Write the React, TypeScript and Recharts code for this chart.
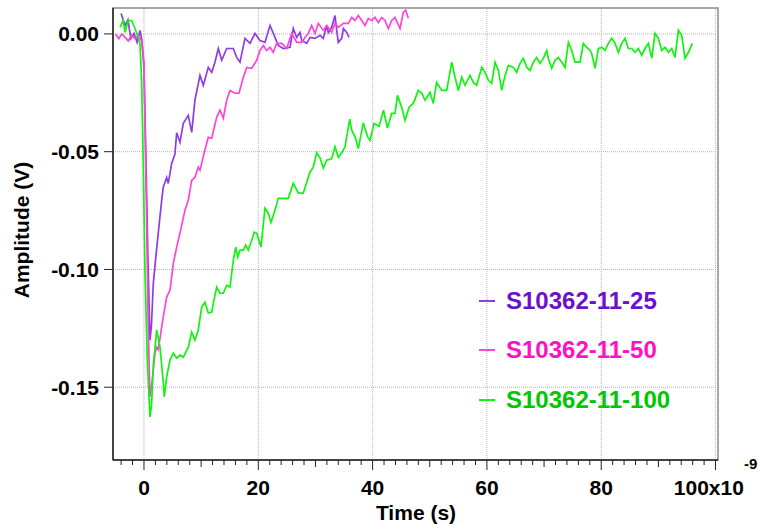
import React from "react"
import { LineChart, Line, XAxis, YAxis, ReferenceLine, ReferenceArea, Legend } from "recharts"

// time in ns, amplitude in V
const purpleT = [
  -4.0, -3.3, -2.8, -2.3, -1.75, -1.2, -0.7, -0.35, 0, 0.35, 0.7, 1.05, 1.3, 1.63, 2.1, 2.5,
  3.1, 3.38, 3.97, 4.25, 4.85, 5.42, 5.72, 6.3, 6.88, 7.75, 8.35, 8.92, 9.8, 10.38, 11.25, 11.85,
  12.42, 13.0, 13.6, 14.47, 15.63, 16.22, 16.8, 17.67, 18.55, 19.42, 20.3, 21.17, 22.05, 22.92, 23.5, 24.37,
  25.55, 26.12, 26.72, 27.3, 27.6, 28.47, 29.05, 29.92, 30.8, 31.37, 31.97, 32.25, 32.84, 33.42, 33.72, 34.0,
  34.6, 34.88, 35.47, 35.87,
]
const purpleV = [
  0.0087, 0.0036, 0.006, -0.002, 0.0002, -0.0036, 0.0015, -0.0028, -0.015, -0.054, -0.096, -0.13, -0.124, -0.106, -0.094, -0.0846,
  -0.0706, -0.065, -0.061, -0.0635, -0.055, -0.051, -0.042, -0.046, -0.038, -0.0346, -0.0418, -0.028, -0.0176, -0.0218, -0.0142, -0.0163,
  -0.012, -0.0062, -0.0112, -0.0062, -0.0062, -0.01, -0.012, -0.0019, -0.004, 0.0002, -0.0028, -0.0036, 0.0036, -0.0015, -0.0049, -0.0062,
  -0.0057, 0.0023, -0.0015, 0.0006, -0.0028, -0.004, -0.0015, -0.0019, -0.0006, -0.0019, 0.0036, 0.0006, 0.0028, 0.0078, 0.0015, -0.0036,
  -0.0019, 0.0023, 0.0006, -0.0015,
]

const pinkT = [
  -5.0, -4.4, -3.9, -3.3, -2.75, -2.15, -1.57, -1.0, -0.4, 0, 0.4, 0.75, 1.05, 1.4, 1.92, 2.22,
  2.5, 3.38, 3.97, 4.55, 5.13, 5.72, 6.3, 7.17, 7.75, 8.35, 8.92, 9.5, 9.8, 10.38, 11.25, 11.85,
  12.72, 13.3, 13.88, 14.47, 15.05, 15.92, 16.62, 17.38, 17.97, 18.85, 19.72, 20.3, 20.87, 21.47, 22.05, 22.62,
  23.22, 24.1, 24.97, 25.84, 26.72, 27.6, 28.17, 28.75, 29.34, 29.92, 30.5, 31.37, 31.97, 32.84, 33.42, 34.0,
  34.88, 35.75, 36.34, 36.92, 37.5, 38.1, 38.67, 39.25, 39.84, 40.42, 41.0, 41.6, 42.17, 42.75, 43.34, 43.92,
  44.8, 45.37, 45.8, 46.25,
]
const pinkV = [
  0, -0.002, 0, -0.0015, -0.003, -0.0006, -0.002, -0.0006, -0.003, -0.012, -0.07, -0.125, -0.154, -0.148, -0.1356, -0.133,
  -0.134, -0.12, -0.1117, -0.1088, -0.0975, -0.0905, -0.0846, -0.0749, -0.0706, -0.0622, -0.0609, -0.0566, -0.0579, -0.052, -0.0439, -0.0443,
  -0.0354, -0.0324, -0.0358, -0.0282, -0.024, -0.0252, -0.0252, -0.0184, -0.0142, -0.0146, -0.0112, -0.007, -0.0049, -0.007, -0.0057, -0.0078,
  -0.004, -0.004, -0.0062, 0.0002, -0.0036, -0.0036, -0.0015, 0.0002, 0.0036, 0.0002, 0.0045, 0.0015, 0.0036, 0.0006, 0.0045, 0.0028,
  0.0045, 0.0045, 0.007, 0.0057, 0.0078, 0.0057, 0.0036, 0.0066, 0.0057, 0.007, 0.0049, 0.007, 0.0057, 0.0023, 0.0057, 0.007,
  0.0023, 0.0091, 0.01, 0.0066,
]

const greenT = [
  -4.2, -3.62, -3.32, -2.75, -2.15, -1.57, -1.0, -0.7, -0.4, -0.17,
  0.17, 0.6, 1.05, 1.31, 1.66, 2.22, 2.8, 3.38, 3.55, 3.97,
  4.55, 5.13, 5.72, 6.3, 6.88, 7.75, 8.35, 8.92, 9.5, 10.1,
  10.67, 11.25, 11.85, 12.13, 12.72, 13.3, 13.88, 14.47, 15.05, 15.63,
  16.05, 16.4, 16.8, 17.38, 17.8, 18.25, 18.85, 19.3, 19.72, 20.47,
  21.17, 21.75, 22.22, 22.92, 23.5, 25.25, 26.12, 27.0, 27.87, 28.47,
  29.05, 29.62, 30.22, 30.8, 31.37, 31.97, 32.84, 33.42, 34.0, 34.6,
  35.17, 36.0, 36.34, 36.92, 37.5, 38.37, 39.1, 39.55, 40.25, 41.15,
  41.9, 42.6, 43.34, 43.92, 44.35, 45.1, 45.67, 46.4, 47.12, 48.0,
  48.6, 49.17, 50.04, 50.62, 51.2, 52.1, 52.97, 53.84, 54.42, 55.0,
  55.6, 56.17, 57.04, 57.62, 58.2, 59.1, 59.67, 60.25, 60.84, 61.42,
  62.0, 62.6, 63.17, 63.75, 64.62, 65.22, 65.8, 66.37, 66.97, 67.54,
  68.12, 68.71, 69.3, 69.87, 70.46, 70.75, 71.34, 71.92, 72.5, 73.1,
  73.67, 74.25, 74.84, 75.42, 76.29, 76.87, 77.46, 78.04, 78.33, 78.92,
  79.5, 80.09, 80.67, 81.25, 81.84, 82.42, 83.0, 83.59, 84.17, 84.75,
  85.34, 85.91, 86.5, 87.09, 87.66, 88.25, 88.84, 89.41, 90.0, 90.58,
  91.16, 91.74, 92.33, 92.91, 93.5, 94.08, 94.66, 95.25, 95.94,
]
const greenV = [
  0.0028, 0.0057, 0.0006, 0.0057, 0.0057, 0.0023, -0.0015, -0.004, -0.021, -0.05,
  -0.1, -0.14, -0.1626, -0.158, -0.14, -0.1257, -0.133, -0.148, -0.154, -0.1456,
  -0.1385, -0.1356, -0.1377, -0.1364, -0.1373, -0.133, -0.1266, -0.13, -0.1257, -0.116,
  -0.1139, -0.1185, -0.1181, -0.1143, -0.1075, -0.1101, -0.1101, -0.1067, -0.1075, -0.0961,
  -0.0905, -0.0948, -0.0918, -0.0918, -0.0897, -0.0918, -0.0876, -0.0842, -0.0846, -0.0905,
  -0.074, -0.0761, -0.08, -0.0749, -0.0698, -0.0698, -0.0634, -0.0676, -0.0676, -0.063,
  -0.0587, -0.0566, -0.0505, -0.0526, -0.057, -0.0536, -0.053, -0.0479, -0.0524, -0.0505,
  -0.048, -0.0362, -0.0409, -0.0436, -0.0487, -0.0378, -0.0435, -0.0452, -0.038, -0.0392,
  -0.0324, -0.04, -0.0337, -0.0337, -0.0261, -0.0312, -0.0367, -0.031, -0.0295, -0.024,
  -0.0252, -0.0282, -0.0248, -0.0295, -0.0206, -0.024, -0.024, -0.012, -0.0184, -0.024,
  -0.0184, -0.0218, -0.0176, -0.0206, -0.0218, -0.0142, -0.0163, -0.0197, -0.021, -0.012,
  -0.0155, -0.024, -0.0176, -0.0134, -0.0142, -0.0163, -0.0125, -0.0104, -0.0142, -0.0155,
  -0.012, -0.01, -0.0125, -0.0104, -0.007, -0.0104, -0.0146, -0.0112, -0.01, -0.012,
  -0.0142, -0.0036, -0.007, -0.012, -0.012, -0.004, -0.0057, -0.007, -0.0083, -0.0146,
  -0.0062, -0.0057, -0.007, -0.004, -0.0019, -0.004, -0.0078, -0.004, -0.0019, -0.0062,
  -0.0062, -0.0078, -0.0062, -0.0091, -0.0062, -0.004, -0.0104, 0.0002, -0.0019, -0.007,
  -0.0057, -0.0078, -0.0062, -0.01, 0.0015, -0.0006, -0.0104, -0.0078, -0.004,
]

const seriesNames = ["S10362-11-25", "S10362-11-50", "S10362-11-100"]
const lineColors = ["#8e3de6", "#ff45d6", "#10f410"]
const textColors = ["#6c10cc", "#ff10c8", "#00c800"]

const xTicks = [
  -4, -2, 0, 2, 4, 6, 8, 10, 12, 14, 16, 18, 20, 22, 24, 26, 28, 30, 32, 34, 36, 38, 40,
  42, 44, 46, 48, 50, 52, 54, 56, 58, 60, 62, 64, 66, 68, 70, 72, 74, 76, 78, 80,
  82, 84, 86, 88, 90, 92, 94, 96, 98, 100,
]
const xMajor = [0, 20, 40, 60, 80, 100]
const yTicks = [0, -0.05, -0.1, -0.15]
const yLabels = ["0.00", "-0.05", "-0.10", "-0.15"]

const toPoints = (t: number[], v: number[]) => t.map((x, i) => ({ t: x, v: v[i] }))
const purpleData = toPoints(purpleT, purpleV)
const pinkData = toPoints(pinkT, pinkV)
const greenData = toPoints(greenT, greenV)

const FONT = "'Liberation Sans', Arial, Helvetica, sans-serif"
const GRID = "#b4b4b4"

const XTick = (props: any) => {
  const { x, y, payload } = props
  const val = payload.value
  const major = xMajor.includes(val)
  const len = major ? 10 : val % 10 === 0 ? 7 : 5
  return (
    <g>
      <line x1={x} x2={x} y1={y} y2={y + len} stroke="#222" strokeWidth={1} />
      {major && (
        <text x={x} y={y + 35} textAnchor="middle" fontFamily={FONT} fontWeight={700} fontSize={21} fill="#000">
          {val === 100 ? "100x10" : String(val)}
          {val === 100 && (
            <tspan dy={-26} fontSize={15}>-9</tspan>
          )}
        </text>
      )}
    </g>
  )
}

const YTick = (props: any) => {
  const { x, y, payload } = props
  const idx = yTicks.indexOf(payload.value)
  return (
    <g>
      <line x1={x - 9} x2={x} y1={y} y2={y} stroke="#222" strokeWidth={1} />
      <text x={x - 14} y={y} dy="0.36em" textAnchor="end" fontFamily={FONT} fontWeight={700} fontSize={21} fill="#000">
        {idx >= 0 ? yLabels[idx] : ""}
      </text>
    </g>
  )
}

const renderLegend = () => (
  <div style={{ fontFamily: FONT, fontWeight: 700, fontSize: 24 }}>
    {seriesNames.map((name, i) => (
      <div key={name} style={{ display: "flex", alignItems: "center", height: 49.5, whiteSpace: "nowrap" }}>
        <span style={{ display: "inline-block", width: 16, height: 2, background: lineColors[i], marginRight: 11 }} />
        <span style={{ color: textColors[i] }}>{name}</span>
      </div>
    ))}
  </div>
)

export default function App() {
  return (
    <div style={{ position: "absolute", left: 0, top: 0, background: "#fff" }}>
      <LineChart width={761} height={526} margin={{ top: 8, right: 43, bottom: 6, left: 0 }}>
        <ReferenceArea x1={-5.42} x2={100.43} y1={-0.1809} y2={0.011} fill="none" stroke="#8a8a8a" strokeWidth={1.5} />
        {xMajor.map((g) => (
          <ReferenceLine key={"gx" + g} x={g} stroke={GRID} strokeDasharray="1 1" />
        ))}
        {yTicks.map((g) => (
          <ReferenceLine key={"gy" + g} y={g} stroke={GRID} strokeDasharray="1 1" />
        ))}
        <XAxis
          type="number"
          dataKey="t"
          domain={[-5.42, 100.43]}
          allowDataOverflow
          ticks={xTicks}
          interval={0}
          tick={<XTick />}
          tickLine={false}
          tickSize={0}
          tickMargin={0}
          height={60}
          axisLine={{ stroke: "#222", strokeWidth: 1.5 }}
          label={{
            content: () => (
              <text x={416} y={520} textAnchor="middle" fontFamily={FONT} fontWeight={700} fontSize={21} fill="#000">
                Time (s)
              </text>
            ),
          }}
        />
        <YAxis
          type="number"
          domain={[-0.1809, 0.011]}
          allowDataOverflow
          ticks={yTicks}
          interval={0}
          tick={<YTick />}
          tickLine={false}
          tickSize={0}
          tickMargin={0}
          width={113}
          axisLine={{ stroke: "#222", strokeWidth: 1.5 }}
          label={{
            content: () => (
              <text
                x={21}
                y={230}
                transform="rotate(-90 21 230)"
                textAnchor="middle"
                dominantBaseline="central"
                fontFamily={FONT}
                fontWeight={700}
                fontSize={21}
                fill="#000"
              >
                Amplitude (V)
              </text>
            ),
          }}
        />
        <Legend
          layout="vertical"
          align="center"
          verticalAlign="middle"
          content={renderLegend}
          wrapperStyle={{ left: 479, top: 276, width: 240 }}
        />
        <Line data={purpleData} dataKey="v" name={seriesNames[0]} type="linear" stroke={lineColors[0]} strokeWidth={1.7} dot={false} isAnimationActive={false} />
        <Line data={pinkData} dataKey="v" name={seriesNames[1]} type="linear" stroke={lineColors[1]} strokeWidth={1.7} dot={false} isAnimationActive={false} />
        <Line data={greenData} dataKey="v" name={seriesNames[2]} type="linear" stroke={lineColors[2]} strokeWidth={1.7} dot={false} isAnimationActive={false} />
      </LineChart>
    </div>
  )
}
